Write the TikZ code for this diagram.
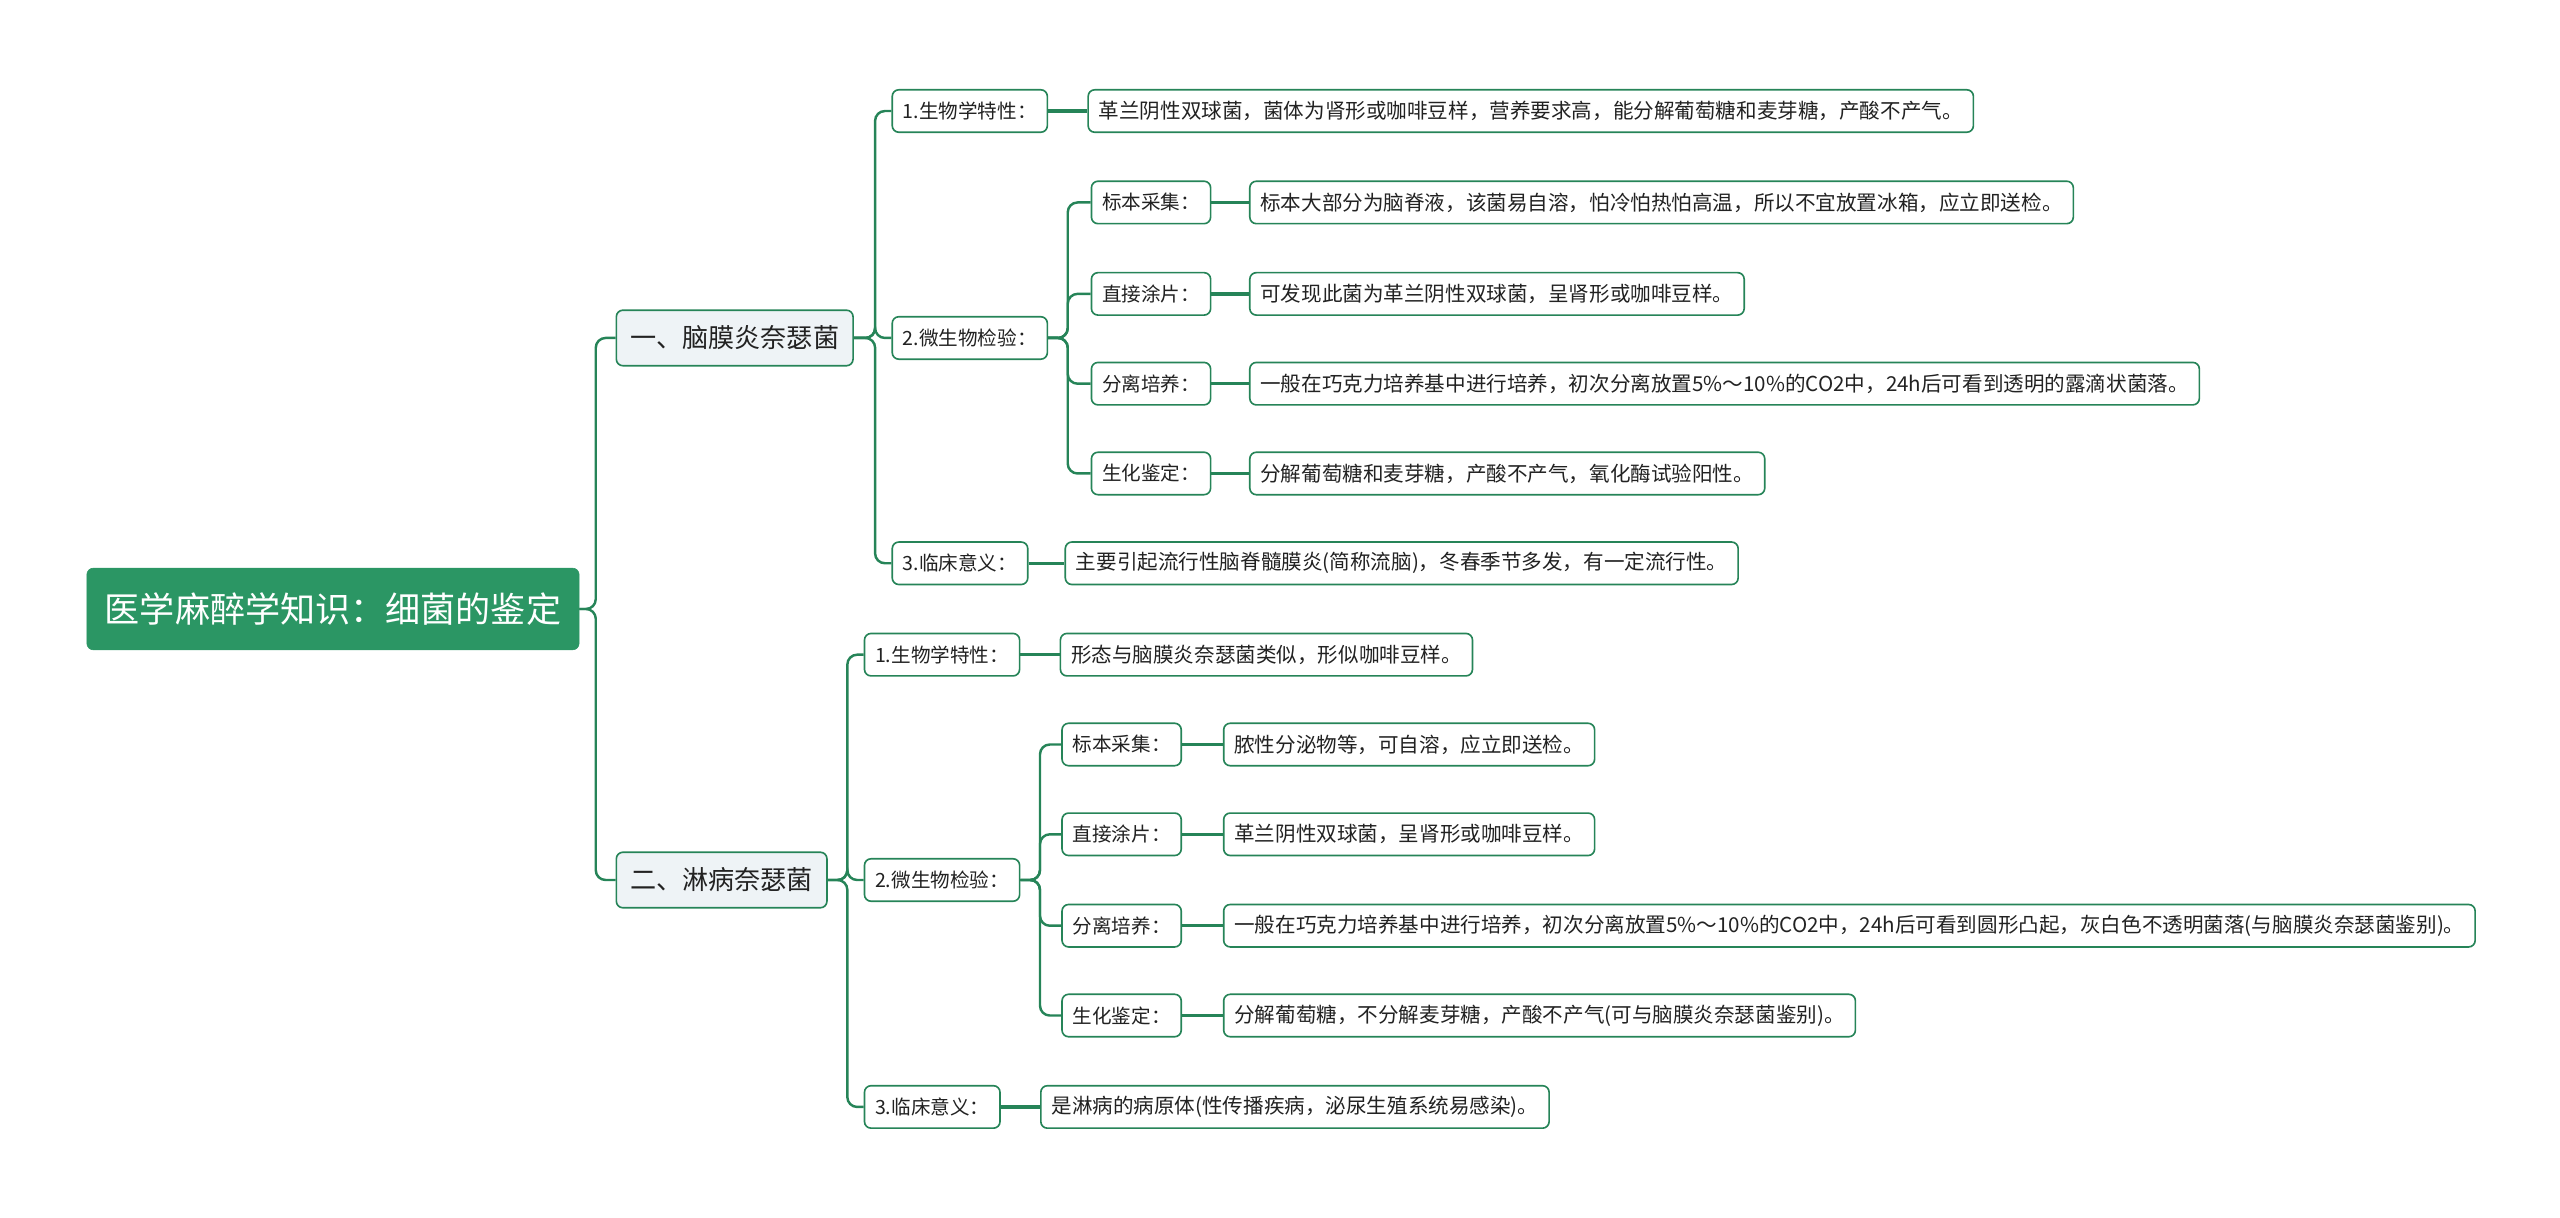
\documentclass[tikz,border=0pt]{standalone}
\usepackage{fontspec}
\setmainfont{Noto Sans CJK SC}
\usetikzlibrary{positioning}
\definecolor{g1}{RGB}{43,150,100}
\definecolor{g2}{RGB}{38,132,88}
\definecolor{bg1}{RGB}{238,243,246}
\definecolor{t1}{RGB}{34,34,34}

\begin{document}
\begin{tikzpicture} [
    x=1pt, y=-1pt,
    link/.style={draw=g2, line width=1.5pt, rounded corners=6pt},
    leaflink/.style={draw=g2, line width=2pt},
    rootb/.style={
        fill=g1, draw=g1, rounded corners=4pt,
        text=white, font=\fontsize{21.5}{24}\selectfont,
        inner xsep=11pt, minimum height=50pt, anchor=west
    },
    mainb/.style={
        fill=bg1, draw=g2, line width=1pt, rounded corners=4pt,
        text=t1, font=\fontsize{16}{19}\selectfont,
        inner xsep=8.5pt, minimum height=34pt, anchor=west
    },
    subb/.style={
        fill=white, draw=g2, line width=1pt, rounded corners=4pt,
        text=t1, font=\fontsize{12}{14}\selectfont,
        inner xsep=6.5pt, minimum height=26pt, anchor=west
    },
    leafb/.style={subb, font=\fontsize{12.6}{14}\selectfont}
]

\useasboundingbox (0,0) rectangle (1568,746);

\node [rootb] (root) at (53,373) {医学麻醉学知识：细菌的鉴定};
\node [mainb] (nm) at (377,207) {一、脑膜炎奈瑟菌};
\node [mainb] (ng) at (377,539) {二、淋病奈瑟菌};

% 脑膜炎奈瑟菌
\node [subb] (nm1) at (546,68)  {1.生物学特性：};
\node [subb] (nm2) at (546,207) {2.微生物检验：};
\node [subb] (nm3) at (546,345) {3.临床意义：};
\node [subb] (nm21) at (668,124) {标本采集：};
\node [subb] (nm22) at (668,180) {直接涂片：};
\node [subb] (nm23) at (668,235) {分离培养：};
\node [subb] (nm24) at (668,290) {生化鉴定：};

\node [leafb, right=24pt of nm1] (t-nm1) {革兰阴性双球菌，菌体为肾形或咖啡豆样，营养要求高，能分解葡萄糖和麦芽糖，产酸不产气。};
\node [leafb, right=23pt of nm21] (t-nm21) {标本大部分为脑脊液，该菌易自溶，怕冷怕热怕高温，所以不宜放置冰箱，应立即送检。};
\node [leafb, right=23pt of nm22] (t-nm22) {可发现此菌为革兰阴性双球菌，呈肾形或咖啡豆样。};
\node [leafb, right=23pt of nm23] (t-nm23) {一般在巧克力培养基中进行培养，初次分离放置5\%～10\%的CO2中，24h后可看到透明的露滴状菌落。};
\node [leafb, right=23pt of nm24] (t-nm24) {分解葡萄糖和麦芽糖，产酸不产气，氧化酶试验阳性。};
\node [leafb, right=22pt of nm3] (t-nm3) {主要引起流行性脑脊髓膜炎(简称流脑)，冬春季节多发，有一定流行性。};

% 淋病奈瑟菌
\node [subb] (ng1) at (529,401) {1.生物学特性：};
\node [subb] (ng2) at (529,539) {2.微生物检验：};
\node [subb] (ng3) at (529,678) {3.临床意义：};
\node [subb] (ng21) at (650,456) {标本采集：};
\node [subb] (ng22) at (650,511) {直接涂片：};
\node [subb] (ng23) at (650,567) {分离培养：};
\node [subb] (ng24) at (650,622) {生化鉴定：};

\node [leafb, right=24pt of ng1] (t-ng1) {形态与脑膜炎奈瑟菌类似，形似咖啡豆样。};
\node [leafb, right=25pt of ng21] (t-ng21) {脓性分泌物等，可自溶，应立即送检。};
\node [leafb, right=25pt of ng22] (t-ng22) {革兰阴性双球菌，呈肾形或咖啡豆样。};
\node [leafb, right=25pt of ng23] (t-ng23) {一般在巧克力培养基中进行培养，初次分离放置5\%～10\%的CO2中，24h后可看到圆形凸起，灰白色不透明菌落(与脑膜炎奈瑟菌鉴别)。};
\node [leafb, right=25pt of ng24] (t-ng24) {分解葡萄糖，不分解麦芽糖，产酸不产气(可与脑膜炎奈瑟菌鉴别)。};
\node [leafb, right=24pt of ng3] (t-ng3) {是淋病的病原体(性传播疾病，泌尿生殖系统易感染)。};

% branches
\draw [link] (root.east) -- ++(10,0) |- (nm.west);
\draw [link] (root.east) -- ++(10,0) |- (ng.west);
\foreach \c in {nm1,nm2,nm3} \draw [link] (nm.east) -- ++(13,0) |- (\c.west);
\foreach \c in {nm21,nm22,nm23,nm24} \draw [link] (nm2.east) -- ++(12,0) |- (\c.west);
\foreach \c in {ng1,ng2,ng3} \draw [link] (ng.east) -- ++(12,0) |- (\c.west);
\foreach \c in {ng21,ng22,ng23,ng24} \draw [link] (ng2.east) -- ++(12,0) |- (\c.west);

\foreach \a in {nm1,nm21,nm22,nm23,nm24,nm3,ng1,ng21,ng22,ng23,ng24,ng3}
    \draw [leaflink] (\a.east) -- (t-\a.west);

\end{tikzpicture}
\end{document}
